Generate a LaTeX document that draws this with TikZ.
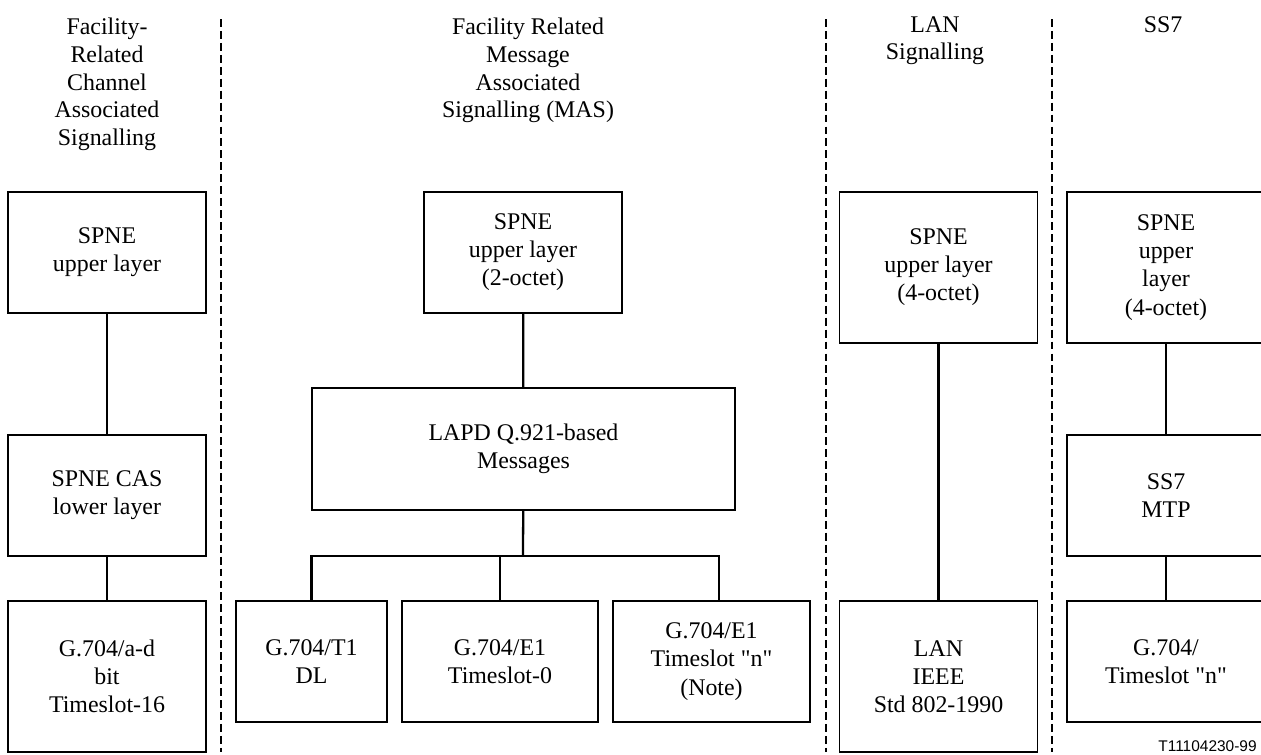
\documentclass[tikz,border=0pt]{standalone}
\usepackage{fontspec}
\setmainfont{Liberation Serif}
\newfontfamily\figfont{Liberation Sans}
\begin{document}
\begin{tikzpicture}[x=0.02cm,y=-0.02cm,n/.style={rectangle,draw,line width=0.7pt,align=center,inner sep=0pt,minimum width=3.96cm,minimum height=2.42cm,font=\fontsize{13.6}{16}\selectfont},tall/.style={minimum height=3.02cm},e/.style={draw,line width=1.3pt},sep/.style={draw,line width=1.2pt,dash pattern=on 4.5pt off 2.3pt},t/.style={align=center,anchor=north,inner sep=0pt,font=\fontsize{13.6}{15.7}\selectfont}]

\useasboundingbox (0,0) rectangle (1261,754);

% column titles
\node[t] (t1) at (107,18) {Facility-\\Related\\Channel\\Associated\\Signalling};
\node[t] (t2) at (528,18) {Facility Related\\Message\\Associated\\Signalling (MAS)};
\node[t] (t3) at (935,16) {LAN\\Signalling};
\node[t] (t4) at (1163,16) {SS7};

\foreach \xs in {221,826,1052} \path[sep] (\xs,19) -- (\xs,752);

% CAS
\node[n] (cu) at (107,252.5) {SPNE\\upper layer};
\node[n] (cl) at (107,495.5) {SPNE CAS\\lower layer};
\node[n, tall] (cg) at (107,676.5) {G.704/a-d\\bit\\Timeslot-16};
\path[e] (cu) -- (cl);
\path[e] (cl) -- (cg);

% MAS
\node[n] (mu) at (523,252.5) {SPNE\\upper layer\\(2-octet)};
\node[n, minimum width=8.46cm, minimum height=2.44cm] (ml) at (523.5,449) {LAPD Q.921-based\\Messages};
\node[n, minimum width=3.02cm] (mt1) at (311.5,661.5) {G.704/T1\\DL};
\node[n, minimum width=3.92cm] (me0) at (500,661.5) {G.704/E1\\Timeslot-0};
\node[n, minimum width=3.94cm] (men) at (711.5,661.5) {G.704/E1\\Timeslot \textquotedbl n\textquotedbl\\(Note)};
\coordinate (br) at (523,556);
\path[e] (mu) -- (ml);
\path[e] (ml) -- (br);
\path[e] (mt1.north) |- (br) -| ([xshift=0.15cm] men.north);
\path[e] (me0.north) -- (me0.north |- br);

% LAN
\node[n, tall] (lu) at (938.5,267.5) {SPNE\\upper layer\\(4-octet)};
\node[n, tall] (lg) at (938.5,676.5) {LAN\\IEEE\\Std 802-1990};
\path[e] (lu) -- (lg);

% SS7
\node[n, tall] (su) at (1166,267.5) {SPNE\\upper\\layer\\(4-octet)};
\node[n] (sm) at (1166,495.5) {SS7\\MTP};
\node[n] (sg) at (1166,661.5) {G.704/\\Timeslot \textquotedbl n\textquotedbl};
\path[e] (su) -- (sm);
\path[e] (sm) -- (sg);

\node[anchor=east, inner sep=0pt, font=\figfont\fontsize{8.8}{10}\selectfont] (fig) at (1257,746) {T11104230-99};

\end{tikzpicture}
\end{document}
